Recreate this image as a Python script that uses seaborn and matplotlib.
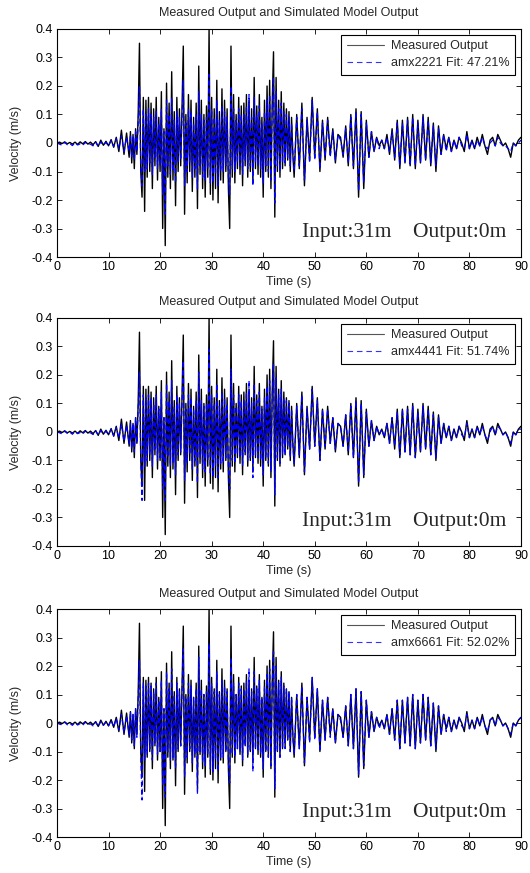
import matplotlib
matplotlib.use("Agg")
import matplotlib.pyplot as plt
import numpy as np
import seaborn as sns

sns.set_theme(style="ticks")
plt.rcParams["font.family"] = ["Liberation Sans", "DejaVu Sans"]

# sampling of the record: 0.5 s before 14 s, 0.25 s in the strong part, 0.5 s after 46 s
t0_early, dt_early = 0.0, 0.5
t0_strong, dt_strong = 14.0, 0.25
t0_late, dt_late = 46.0, 0.5

measured_early = [0.000, 0.003, -0.002, 0.004, -0.003, 0.002, -0.004, 0.003, -0.005, 0.004,
                  -0.003, 0.005, -0.004, 0.003, -0.006, 0.005, -0.012, 0.010, -0.008, 0.006,
                  -0.010, 0.012, -0.015, 0.020, -0.030, 0.045, -0.040, 0.035]
measured_strong = [-0.05, 0.04, -0.07, 0.03, -0.09, 0.05, -0.04, 0.10,
                   0.35, -0.10, -0.19, 0.16, -0.24, 0.15, -0.12, 0.16,
                   -0.10, 0.14, -0.16, 0.12, -0.08, 0.16, -0.13, 0.09,
                   -0.10, 0.18, -0.30, 0.05, -0.36, 0.21, -0.12, 0.14,
                   -0.16, 0.25, -0.13, 0.11, -0.22, 0.16, -0.10, 0.12,
                   -0.08, 0.12, 0.34, -0.25, 0.10, -0.14, 0.17, -0.10,
                   0.15, -0.17, 0.09, -0.12, 0.14, -0.23, 0.27, -0.11,
                   0.15, -0.16, 0.10, -0.19, 0.13, -0.12, 0.40, -0.18,
                   0.16, -0.20, 0.12, -0.16, 0.22, -0.21, 0.11, -0.13,
                   0.19, -0.14, 0.15, -0.10, 0.12, -0.16, -0.30, 0.34,
                   -0.12, 0.17, -0.14, 0.10, -0.09, 0.16, -0.11, 0.13,
                   -0.15, 0.14, -0.08, 0.17, -0.12, 0.15, -0.10, 0.12,
                   -0.14, 0.23, -0.09, 0.13, -0.11, 0.17, -0.12, 0.09,
                   -0.19, 0.15, -0.10, 0.20, -0.12, 0.22, -0.16, 0.14,
                   0.32, -0.26, 0.23, -0.10, 0.15, -0.12, 0.18, -0.09,
                   0.14, -0.08, 0.12, -0.06, 0.11, -0.10, 0.09, -0.04]
measured_late = [-0.12, 0.10, -0.09, 0.14, -0.15, 0.09, -0.06, 0.16, -0.05, 0.12,
                 -0.10, 0.08, -0.06, 0.09, -0.04, 0.05, -0.07, 0.03, 0.02, -0.05,
                 0.06, -0.08, 0.10, -0.09, 0.12, -0.19, 0.11, -0.16, 0.08, -0.05,
                 0.04, -0.03, 0.02, -0.01, 0.01, -0.02, 0.03, -0.04, 0.05, -0.06,
                 0.08, -0.09, 0.08, -0.07, 0.09, -0.08, 0.10, -0.09, 0.08, -0.07,
                 0.10, -0.06, 0.09, -0.08, 0.07, -0.10, 0.06, -0.04, 0.03, -0.02,
                 0.02, -0.03, 0.01, -0.02, 0.02, 0.00, -0.03, 0.04, -0.02, 0.01,
                 -0.02, 0.02, -0.01, 0.03, -0.01, -0.04, 0.01, 0.02, -0.01, 0.03,
                 0.01, -0.01, 0.00, -0.02, -0.05, 0.00, -0.01, 0.01, 0.02]

sim1_early = [0.000, -0.004, -0.008, 0.002, -0.006, -0.002, -0.009, 0.001, -0.007, -0.003,
              -0.008, 0.002, -0.005, -0.004, -0.010, 0.003, -0.012, 0.004, -0.008, 0.002,
              -0.010, 0.008, -0.012, 0.015, -0.020, 0.025, -0.030, 0.020]
sim1_strong = [-0.03, 0.03, -0.05, 0.02, -0.06, 0.04, -0.03, 0.07,
               0.20, -0.08, -0.15, 0.12, -0.10, 0.10, -0.09, 0.12,
               -0.07, 0.10, -0.11, 0.09, -0.05, 0.11, -0.09, 0.07,
               -0.08, 0.12, -0.18, 0.04, -0.25, 0.15, -0.08, 0.10,
               -0.11, 0.16, -0.10, 0.08, -0.14, 0.11, -0.07, 0.09,
               -0.06, 0.09, 0.22, -0.15, 0.07, -0.10, 0.12, -0.07,
               0.11, -0.12, 0.07, -0.09, 0.10, -0.16, 0.18, -0.08,
               0.10, -0.12, 0.08, -0.13, 0.09, -0.09, 0.24, -0.14,
               0.12, -0.14, 0.09, -0.11, 0.15, -0.15, 0.08, -0.10,
               0.13, -0.10, 0.11, -0.08, 0.09, -0.12, -0.18, 0.20,
               -0.09, 0.12, -0.10, 0.08, -0.07, 0.12, -0.08, 0.10,
               -0.11, 0.10, -0.06, 0.13, -0.09, 0.17, -0.08, 0.09,
               -0.15, 0.16, -0.07, 0.10, -0.08, 0.13, -0.09, 0.07,
               -0.14, 0.11, -0.08, 0.15, -0.10, 0.17, -0.13, 0.11,
               0.23, -0.21, 0.18, -0.08, 0.12, -0.10, 0.14, -0.07,
               0.11, -0.07, 0.10, -0.05, 0.09, -0.08, 0.07, -0.03]
sim1_late = [-0.10, 0.09, -0.08, 0.12, -0.13, 0.08, -0.07, 0.15, -0.06, 0.11,
             -0.09, 0.07, -0.05, 0.08, -0.05, 0.04, -0.06, 0.03, 0.01, -0.04,
             0.05, -0.07, 0.09, -0.08, 0.11, -0.17, 0.10, -0.14, 0.07, -0.05,
             0.04, -0.03, 0.02, -0.02, 0.01, -0.02, 0.02, -0.03, 0.04, -0.05,
             0.07, -0.08, 0.07, -0.07, 0.08, -0.08, 0.09, -0.08, 0.07, -0.07,
             0.09, -0.06, 0.08, -0.07, 0.06, -0.08, 0.05, -0.04, 0.03, -0.03,
             0.02, -0.03, 0.01, -0.02, 0.02, -0.01, -0.02, 0.03, -0.02, 0.01,
             -0.02, 0.01, -0.01, 0.02, -0.01, -0.02, 0.00, 0.01, -0.01, 0.02,
             0.00, -0.01, -0.01, -0.02, -0.03, 0.00, -0.01, 0.00, 0.01]

sim2_early = [0.000, -0.003, -0.007, 0.003, -0.005, -0.001, -0.008, 0.002, -0.006, -0.002,
              -0.007, 0.003, -0.004, -0.003, -0.009, 0.004, -0.011, 0.005, -0.007, 0.003,
              -0.009, 0.009, -0.013, 0.016, -0.022, 0.028, -0.033, 0.024]
sim2_strong = [-0.04, 0.03, -0.06, 0.03, -0.07, 0.05, -0.04, 0.08,
               0.21, -0.10, -0.24, 0.13, -0.12, 0.12, -0.10, 0.13,
               -0.08, 0.12, -0.12, 0.10, -0.06, 0.13, -0.10, 0.08,
               -0.09, 0.14, -0.20, 0.05, -0.24, 0.17, -0.09, 0.11,
               -0.12, 0.18, -0.11, 0.09, -0.15, 0.13, -0.08, 0.10,
               -0.07, 0.10, 0.25, -0.17, 0.08, -0.11, 0.13, -0.08,
               0.12, -0.13, 0.08, -0.10, 0.11, -0.18, 0.21, -0.09,
               0.11, -0.13, 0.09, -0.14, 0.10, -0.10, 0.29, -0.15,
               0.13, -0.16, 0.10, -0.12, 0.17, -0.16, 0.09, -0.11,
               0.14, -0.11, 0.12, -0.09, 0.10, -0.13, -0.20, 0.22,
               -0.10, 0.13, -0.11, 0.09, -0.08, 0.13, -0.09, 0.11,
               -0.12, 0.11, -0.07, 0.14, -0.10, 0.18, -0.09, 0.10,
               -0.16, 0.17, -0.08, 0.11, -0.09, 0.14, -0.10, 0.08,
               -0.15, 0.12, -0.09, 0.16, -0.11, 0.18, -0.14, 0.12,
               0.24, -0.22, 0.19, -0.09, 0.13, -0.11, 0.15, -0.08,
               0.12, -0.08, 0.11, -0.05, 0.10, -0.09, 0.08, -0.04]
sim2_late = [-0.11, 0.09, -0.08, 0.13, -0.14, 0.08, -0.06, 0.15, -0.05, 0.11,
             -0.10, 0.08, -0.05, 0.08, -0.04, 0.05, -0.06, 0.03, 0.02, -0.05,
             0.06, -0.07, 0.09, -0.09, 0.11, -0.18, 0.10, -0.15, 0.07, -0.05,
             0.04, -0.03, 0.02, -0.01, 0.01, -0.02, 0.03, -0.04, 0.05, -0.05,
             0.07, -0.08, 0.08, -0.07, 0.08, -0.08, 0.09, -0.09, 0.07, -0.07,
             0.09, -0.06, 0.08, -0.08, 0.06, -0.09, 0.05, -0.04, 0.03, -0.02,
             0.02, -0.03, 0.01, -0.02, 0.02, -0.01, -0.02, 0.03, -0.02, 0.01,
             -0.02, 0.02, -0.01, 0.02, -0.01, -0.03, 0.00, 0.02, -0.01, 0.02,
             0.01, -0.01, 0.00, -0.02, -0.04, 0.00, -0.01, 0.01, 0.01]

sim3_early = [0.000, -0.004, -0.006, 0.003, -0.006, -0.002, -0.008, 0.002, -0.007, -0.002,
              -0.008, 0.003, -0.005, -0.003, -0.010, 0.004, -0.012, 0.005, -0.008, 0.003,
              -0.010, 0.010, -0.014, 0.017, -0.024, 0.030, -0.035, 0.026]
sim3_strong = [-0.04, 0.04, -0.06, 0.03, -0.08, 0.05, -0.05, 0.09,
               0.22, -0.12, -0.27, 0.14, -0.13, 0.13, -0.11, 0.14,
               -0.09, 0.13, -0.13, 0.11, -0.07, 0.14, -0.11, 0.08,
               -0.10, 0.15, -0.22, 0.05, -0.26, 0.18, -0.10, 0.12,
               -0.13, 0.19, -0.12, 0.10, -0.16, 0.14, -0.09, 0.11,
               -0.08, 0.11, 0.26, -0.19, 0.09, -0.12, 0.14, -0.09,
               0.13, -0.14, 0.09, -0.11, 0.12, -0.25, 0.23, -0.10,
               0.12, -0.14, 0.10, -0.15, 0.11, -0.11, 0.28, -0.16,
               0.14, -0.17, 0.11, -0.13, 0.18, -0.17, 0.10, -0.12,
               0.15, -0.12, 0.13, -0.10, 0.11, -0.14, -0.21, 0.23,
               -0.11, 0.14, -0.12, 0.10, -0.09, 0.14, -0.10, 0.12,
               -0.13, 0.12, -0.08, 0.15, -0.11, 0.19, -0.10, 0.11,
               -0.17, 0.18, -0.09, 0.12, -0.10, 0.15, -0.11, 0.09,
               -0.16, 0.13, -0.10, 0.17, -0.12, 0.19, -0.15, 0.13,
               0.25, -0.23, 0.20, -0.10, 0.14, -0.12, 0.16, -0.09,
               0.13, -0.09, 0.12, -0.06, 0.11, -0.10, 0.09, -0.05]
sim3_late = [-0.11, 0.10, -0.09, 0.13, -0.14, 0.09, -0.07, 0.16, -0.06, 0.12,
             -0.10, 0.08, -0.06, 0.09, -0.05, 0.05, -0.07, 0.03, 0.01, -0.05,
             0.06, -0.08, 0.10, -0.09, 0.12, -0.18, 0.11, -0.15, 0.08, -0.05,
             0.04, -0.03, 0.02, -0.02, 0.01, -0.02, 0.03, -0.04, 0.05, -0.06,
             0.08, -0.09, 0.08, -0.07, 0.09, -0.08, 0.10, -0.09, 0.08, -0.07,
             0.10, -0.06, 0.09, -0.08, 0.07, -0.09, 0.06, -0.04, 0.03, -0.03,
             0.02, -0.03, 0.01, -0.02, 0.02, -0.01, -0.02, 0.03, -0.02, 0.01,
             -0.02, 0.02, -0.01, 0.02, -0.01, -0.03, 0.01, 0.02, -0.01, 0.02,
             0.01, -0.01, 0.00, -0.02, -0.04, 0.00, -0.01, 0.01, 0.02]

model_names = ["amx2221 Fit: 47.21%", "amx4441 Fit: 51.74%", "amx6661 Fit: 52.02%"]
x_ticks = [0, 10, 20, 30, 40, 50, 60, 70, 80, 90]
y_ticks = [-0.4, -0.3, -0.2, -0.1, 0, 0.1, 0.2, 0.3, 0.4]
y_tick_labels = ["-0.4", "-0.3", "-0.2", "-0.1", "0", "0.1", "0.2", "0.3", "0.4"]


def join_segments(early, strong, late):
    t = np.concatenate([t0_early + dt_early * np.arange(len(early)),
                        t0_strong + dt_strong * np.arange(len(strong)),
                        t0_late + dt_late * np.arange(len(late))])
    return t, np.array(early + strong + late)


t_meas, v_meas = join_segments(measured_early, measured_strong, measured_late)
sims = [join_segments(sim1_early, sim1_strong, sim1_late),
        join_segments(sim2_early, sim2_strong, sim2_late),
        join_segments(sim3_early, sim3_strong, sim3_late)]

fig = plt.figure(figsize=(5.3, 8.73), dpi=100)
bottoms = [0.7056, 0.3746, 0.0412]
fs = 9

for bottom, (t_sim, v_sim), name in zip(bottoms, sims, model_names):
    ax = fig.add_axes([0.1075, bottom, 0.8755, 0.2612])
    sns.lineplot(x=t_meas, y=v_meas, ax=ax, color="black", linewidth=1.0,
                 estimator=None, sort=False, label="Measured Output")
    sns.lineplot(x=t_sim, y=v_sim, ax=ax, color="blue", linewidth=0.9,
                 estimator=None, sort=False, label=name)
    ax.lines[1].set_dashes((4, 2.5))

    ax.set_xlim(0, 90)
    ax.set_ylim(-0.4, 0.4)
    ax.set_xticks(x_ticks)
    ax.set_yticks(y_ticks)
    ax.set_yticklabels(y_tick_labels)
    ax.tick_params(direction="in", top=True, right=True, length=3.5, width=0.6,
                   labelsize=fs, pad=3, colors="black")
    for s in ax.spines.values():
        s.set_linewidth(0.8)
        s.set_color("black")
    ax.set_xlabel("Time (s)", fontsize=fs, labelpad=2)
    ax.set_ylabel("Velocity (m/s)", fontsize=fs, labelpad=7)
    ax.set_title("Measured Output and Simulated Model Output", fontsize=fs, pad=9)

    leg = ax.legend(loc="upper right", bbox_to_anchor=(0.988, 0.975), borderaxespad=0,
                    fontsize=fs, handlelength=3.0, handletextpad=0.55, frameon=True,
                    fancybox=False, framealpha=1, edgecolor="black", borderpad=0.45,
                    labelspacing=0.4)
    leg.get_frame().set_linewidth(0.8)
    handles = leg.get_lines()
    handles[0].set_color("#555555")
    handles[0].set_linewidth(0.8)
    handles[1].set_color("#3333ff")
    handles[1].set_linewidth(0.8)
    handles[1].set_dashes((5, 3.5))

    ax.text(0.527, 0.088, "Input:31m    Output:0m", transform=ax.transAxes,
            family=["Liberation Serif", "DejaVu Serif"], fontsize=15.5, ha="left",
            va="baseline")

fig.savefig("out.png", dpi=100)
